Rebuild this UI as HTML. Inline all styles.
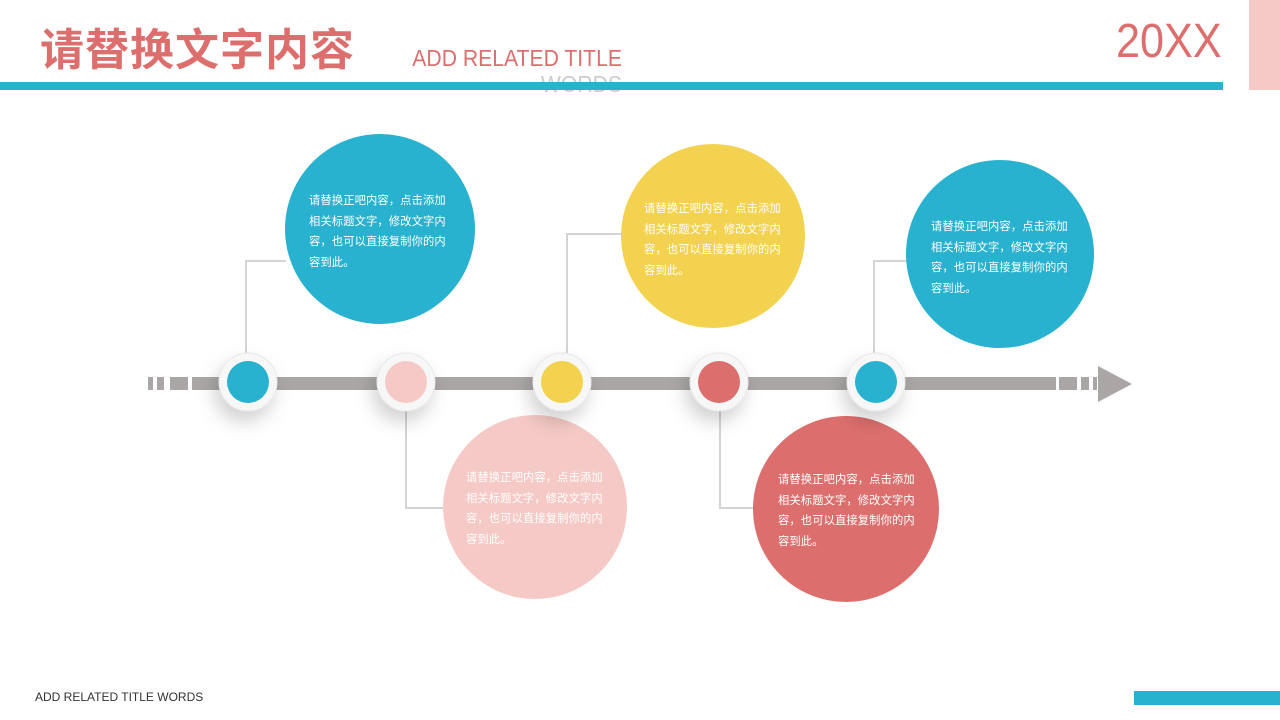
<!DOCTYPE html>
<html><head><meta charset="utf-8"><style>
body{margin:0;width:1280px;height:720px;overflow:hidden;background:#fff;position:relative;font-family:"Liberation Sans","Noto Sans CJK SC",sans-serif}
.a{position:absolute}
.t{position:absolute;color:#fff;font-size:11.3px;line-height:20.5px;white-space:nowrap;letter-spacing:0.1px}
</style></head><body>
<div class="a" style="left:40px;top:18px;font-size:44px;font-weight:bold;color:#dc6f6d;letter-spacing:1px;font-family:'Noto Sans CJK SC',sans-serif;line-height:56px">请替换文字内容</div>
<div class="a" style="left:378px;top:45px;font-size:23px;color:#dc6f6d;line-height:26px;white-space:nowrap;transform:scaleX(0.92);transform-origin:100% 0;width:244px;text-align:right">ADD RELATED TITLE<br><span style="color:#ccc">WORDS</span></div>
<div class="a" style="left:0;top:82px;width:1223px;height:8px;background:#29b2cf"></div>
<div class="a" style="left:1249px;top:0;width:31px;height:90px;background:#f5c9c5"></div>
<div class="a" style="left:1116px;top:14px;font-size:48px;color:#dc6f6d;line-height:56px;transform:scaleX(0.9);transform-origin:0 0">20XX</div>
<div class="a" style="left:35px;top:690px;font-size:12px;color:#333">ADD RELATED TITLE WORDS</div>
<div class="a" style="left:1134px;top:691px;width:146px;height:14px;background:#29b2cf"></div>
<svg class="a" style="left:0;top:0" width="1280" height="720">
<defs><filter id="s" x="-80%" y="-80%" width="260%" height="260%"><feDropShadow dx="-4" dy="10" stdDeviation="9" flood-color="#000" flood-opacity="0.18"/></filter></defs>
<g fill="#aaa6a6">
<rect x="148" y="377" width="5" height="13"/><rect x="157" y="377" width="7" height="13"/><rect x="170" y="377" width="18" height="13"/>
<rect x="192" y="377" width="864" height="13"/>
<rect x="1059" y="377" width="18" height="13"/><rect x="1081" y="377" width="8" height="13"/><rect x="1093" y="377" width="4" height="13"/>
<polygon points="1098,366 1132,384 1098,402"/>
</g>
<g stroke="#d4d4d4" stroke-width="2" fill="none">
<polyline points="246,356 246,261 286,261"/>
<polyline points="406,408 406,508 443,508"/>
<polyline points="567,356 567,234 622,234"/>
<polyline points="720,408 720,508 755,508"/>
<polyline points="874,356 874,261 908,261"/>
</g>
<circle cx="380" cy="229" r="95" fill="#29b2cf"/>
<circle cx="535" cy="507" r="92" fill="#f5c9c5"/>
<circle cx="713" cy="236" r="92" fill="#f2d24f"/>
<circle cx="846" cy="509" r="93" fill="#dc6f6d"/>
<circle cx="1000" cy="254" r="94" fill="#29b2cf"/>
<g filter="url(#s)" fill="#f7f7f7" stroke="#e8e8e8">
<circle cx="248" cy="382" r="29"/><circle cx="406" cy="382" r="29"/><circle cx="562" cy="382" r="29"/><circle cx="719" cy="382" r="29"/><circle cx="876" cy="382" r="29"/>
</g>
<circle cx="248" cy="382" r="21" fill="#29b2cf"/>
<circle cx="406" cy="382" r="21" fill="#f5c9c5"/>
<circle cx="562" cy="382" r="21" fill="#f2d24f"/>
<circle cx="719" cy="382" r="21" fill="#dc6f6d"/>
<circle cx="876" cy="382" r="21" fill="#29b2cf"/>
</svg>
<div class="t" style="left:309px;top:191px">请替换正吧内容，点击添加<br>相关标题文字，修改文字内<br>容，也可以直接复制你的内<br>容到此。</div>
<div class="t" style="left:466px;top:468px">请替换正吧内容，点击添加<br>相关标题文字，修改文字内<br>容，也可以直接复制你的内<br>容到此。</div>
<div class="t" style="left:644px;top:199px">请替换正吧内容，点击添加<br>相关标题文字，修改文字内<br>容，也可以直接复制你的内<br>容到此。</div>
<div class="t" style="left:778px;top:470px">请替换正吧内容，点击添加<br>相关标题文字，修改文字内<br>容，也可以直接复制你的内<br>容到此。</div>
<div class="t" style="left:931px;top:217px">请替换正吧内容，点击添加<br>相关标题文字，修改文字内<br>容，也可以直接复制你的内<br>容到此。</div>
</body></html>
